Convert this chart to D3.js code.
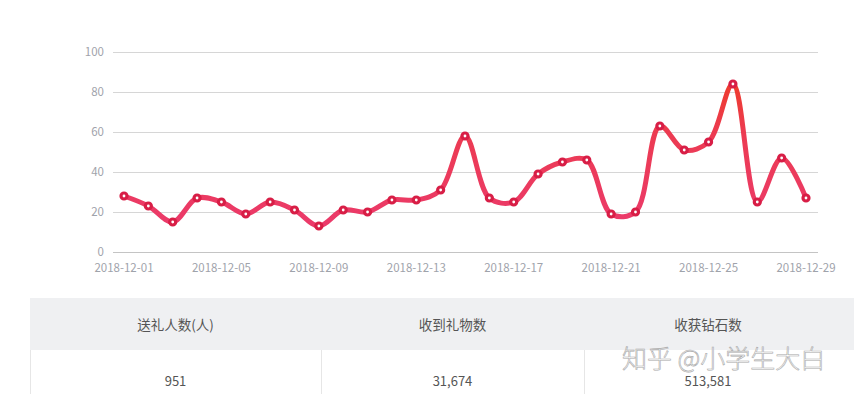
<!DOCTYPE html>
<html>
<head>
<meta charset="utf-8">
<script src="https://cdn.jsdelivr.net/npm/d3@7"></script>
<style>
  body { margin: 0; background: #fff; }
  svg text { font-family: "Noto Sans CJK SC", "Noto Sans", sans-serif; }
</style>
</head>
<body>
<div id="chart"></div>
<script>
// daily values
var dates = ["2018-12-01","2018-12-02","2018-12-03","2018-12-04","2018-12-05","2018-12-06","2018-12-07",
    "2018-12-08","2018-12-09","2018-12-10","2018-12-11","2018-12-12","2018-12-13","2018-12-14","2018-12-15",
    "2018-12-16","2018-12-17","2018-12-18","2018-12-19","2018-12-20","2018-12-21","2018-12-22","2018-12-23",
    "2018-12-24","2018-12-25","2018-12-26","2018-12-27","2018-12-28","2018-12-29"];
var values = [28, 23, 15, 27, 25, 19, 25, 21, 13, 21, 20, 26, 26, 31, 58,
    27, 25, 39, 45, 46, 19, 20, 63, 51, 55, 84, 25, 47, 27];
var yTicks = [0, 20, 40, 60, 80, 100];
var xTickLabels = ["2018-12-01", "2018-12-05", "2018-12-09", "2018-12-13", "2018-12-17", "2018-12-21", "2018-12-25", "2018-12-29"];

var headers = ["送礼人数(人)", "收到礼物数", "收获钻石数"];
var totals = ["951", "31,674", "513,581"];

var width = 854, height = 394;

var svg = d3.select("#chart").append("svg")
    .attr("width", width)
    .attr("height", height);

var x = d3.scalePoint()
    .domain(dates)
    .range([124, 806]);

var y = d3.scaleLinear()
    .domain([0, 100])
    .range([252, 52]);

// grid
svg.append("g")
    .selectAll("line")
    .data(yTicks)
    .enter().append("line")
    .attr("x1", 113)
    .attr("x2", 818)
    .attr("y1", function(d) { return y(d) + 0.5; })
    .attr("y2", function(d) { return y(d) + 0.5; })
    .attr("stroke", function(d) { return d === 0 ? "#c4c4c4" : "#d6d6d6"; })
    .attr("stroke-width", 1);

svg.append("g")
    .selectAll("text")
    .data(yTicks)
    .enter().append("text")
    .attr("x", 104)
    .attr("y", function(d) { return y(d); })
    .attr("dy", "0.35em")
    .attr("text-anchor", "end")
    .attr("fill", "#9fa3ab")
    .style("font-size", "11.5px")
    .text(function(d) { return d; });

svg.append("g")
    .selectAll("text")
    .data(xTickLabels)
    .enter().append("text")
    .attr("x", function(d) { return x(d); })
    .attr("y", 271.5)
    .attr("text-anchor", "middle")
    .attr("fill", "#9fa3ab")
    .style("font-size", "11.5px")
    .text(function(d) { return d; });

// gradient along value
var grad = svg.append("defs").append("linearGradient")
    .attr("id", "lineGrad")
    .attr("gradientUnits", "userSpaceOnUse")
    .attr("x1", 0).attr("x2", 0)
    .attr("y1", y(85)).attr("y2", y(10));
grad.append("stop").attr("offset", "0").attr("stop-color", "#ee3b2c");
grad.append("stop").attr("offset", "0.35").attr("stop-color", "#ec3b52");
grad.append("stop").attr("offset", "1").attr("stop-color", "#eb3a6c");

var line = d3.line()
    .x(function(d, i) { return x(dates[i]); })
    .y(function(d) { return y(d); })
    .curve(d3.curveCatmullRom.alpha(0.5));

svg.append("path")
    .datum(values)
    .attr("d", line)
    .attr("fill", "none")
    .attr("stroke", "url(#lineGrad)")
    .attr("stroke-width", 5)
    .attr("stroke-linecap", "round")
    .attr("stroke-linejoin", "round");

svg.append("g")
    .selectAll("circle")
    .data(values)
    .enter().append("circle")
    .attr("cx", function(d, i) { return x(dates[i]); })
    .attr("cy", function(d) { return y(d); })
    .attr("r", 3)
    .attr("fill", "#fff")
    .attr("stroke", "#d81e46")
    .attr("stroke-width", 3.2);

// summary table
var cols = [30, 321, 584, 860];
svg.append("rect")
    .attr("x", 30).attr("y", 298)
    .attr("width", 830).attr("height", 52)
    .attr("fill", "#eff0f2");
svg.append("line")
    .attr("x1", 30.5).attr("x2", 30.5)
    .attr("y1", 350).attr("y2", 394)
    .attr("stroke", "#e6e6e6");
svg.append("g")
    .selectAll("line")
    .data([cols[1], cols[2]])
    .enter().append("line")
    .attr("x1", function(d) { return d + 0.5; })
    .attr("x2", function(d) { return d + 0.5; })
    .attr("y1", 350).attr("y2", 394)
    .attr("stroke", "#e6e6e6");

svg.append("g")
    .selectAll("text")
    .data(headers)
    .enter().append("text")
    .attr("x", function(d, i) { return i === 2 ? 708 : (cols[i] + cols[i + 1]) / 2; })
    .attr("y", 325)
    .attr("dy", "0.35em")
    .attr("text-anchor", "middle")
    .attr("fill", "#555")
    .style("font-size", "13.5px")
    .text(function(d) { return d; });

svg.append("g")
    .selectAll("text")
    .data(totals)
    .enter().append("text")
    .attr("x", function(d, i) { return i === 2 ? 708 : (cols[i] + cols[i + 1]) / 2; })
    .attr("y", 381)
    .attr("dy", "0.35em")
    .attr("text-anchor", "middle")
    .attr("fill", "#555")
    .style("font-size", "13px")
    .text(function(d) { return d; });

// watermark
svg.append("text")
    .attr("x", 622)
    .attr("y", 368)
    .attr("fill", "#fff")
    .attr("fill-opacity", 0.85)
    .attr("stroke", "#a8a8a8")
    .attr("stroke-width", 0.6)
    .style("font-size", "25px")
    .style("font-weight", 300)
    .text("知乎 @小学生大白");
</script>
</body>
</html>
